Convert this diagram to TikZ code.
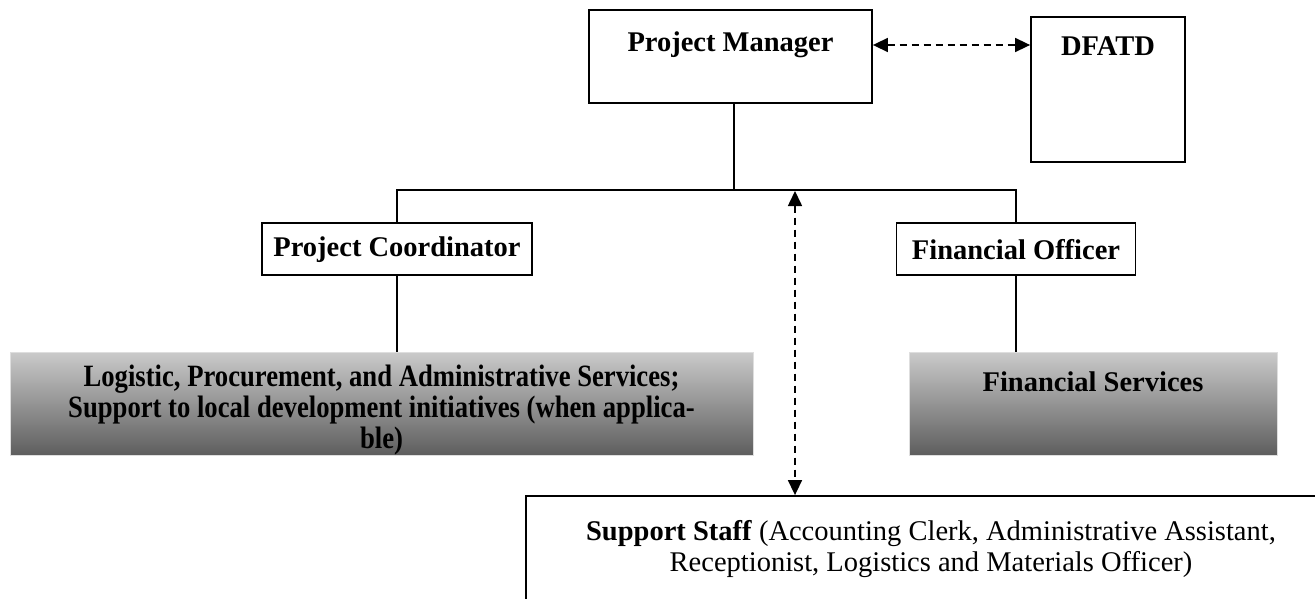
\documentclass[tikz,border=0pt]{standalone}
\usepackage{fontspec}
\setmainfont{Liberation Serif}
\newfontfamily\condensedfont[FakeStretch=0.86]{Liberation Serif}
\usetikzlibrary{arrows.meta}
\definecolor{gtop}{RGB}{202,202,202}
\definecolor{gbot}{RGB}{94,94,94}
\definecolor{gedge}{RGB}{222,222,222}
\tikzset{
  box/.style={draw=black, line width=1.8pt, fill=white, inner sep=0pt},
  gbox/.style={draw=gedge, line width=1pt, top color=gtop, bottom color=gbot, inner sep=0pt},
  lbl/.style={font=\fontsize{28.5}{32}\selectfont\bfseries, inner sep=0pt, align=center},
  glbl/.style={font=\fontsize{31}{31}\selectfont\condensedfont\bfseries, inner sep=0pt, align=center},
  slbl/.style={font=\fontsize{28.5}{31}\selectfont, inner sep=0pt, align=center},
  conn/.style={line width=2pt, draw=black},
  dconn/.style={line width=1.6pt, draw=black, dash pattern=on 7pt off 5pt, {Triangle[length=15pt,width=14pt]}-{Triangle[length=15pt,width=14pt]}}
}
\begin{document}
\begin{tikzpicture}[x=1pt,y=-1pt]
\useasboundingbox (0,0) rectangle (1315,599);
\clip (0,0) rectangle (1315,599);
% boxes
\node[box, minimum width=283pt, minimum height=93pt] (pm) at (730.5,56.5) {};
\node[lbl] (pmtxt) at (730.5,45) {Project Manager};
\node[box, minimum width=154pt, minimum height=145pt] (df) at (1108,89.5) {};
\node[lbl] (dftxt) at (1108,46) {DFATD};
\node[box, minimum width=270pt, minimum height=52pt] (pc) at (397,249) {};
\node[lbl] (pctxt) at (397,250) {Project Coordinator};
\node[box, minimum width=239pt, minimum height=52pt] (fo) at (1016,249) {};
\node[lbl] (fotxt) at (1016,250) {Financial Officer};
\node[gbox, minimum width=743pt, minimum height=103pt] (lg) at (381.5,403.5) {};
\node[glbl] (lgtxt) at (381.5,410) {Logistic, Procurement, and Administrative Services;\\Support to local development initiatives (when applica-\\ble)};
\node[gbox, minimum width=368pt, minimum height=103pt] (rg) at (1093,403.5) {};
\node[lbl] (rgtxt) at (1093,382) {Financial Services};
\node[box, minimum width=812pt, minimum height=130pt] (ss) at (932,561) {};
\node[slbl] (sstxt) at (931,549) {\textbf{Support Staff} (Accounting Clerk, Administrative Assistant,\\Receptionist, Logistics and Materials Officer)};
% connectors
\coordinate (bus) at (734,190);
\draw[conn] (pm.south -| bus) -- (bus);
\draw[conn] (pc.north) -- (pc.north |- bus) -- (fo.north |- bus) -- (fo.north);
\draw[conn] (pc.south) -- (pc.south |- lg.north);
\draw[conn] (fo.south) -- (fo.south |- rg.north);
\draw[dconn] (pmtxt -| pm.east) -- (pmtxt -| df.west);
\coordinate (dtop) at (795,191);
\draw[dconn] (dtop) -- (dtop |- ss.north);
\end{tikzpicture}
\end{document}
